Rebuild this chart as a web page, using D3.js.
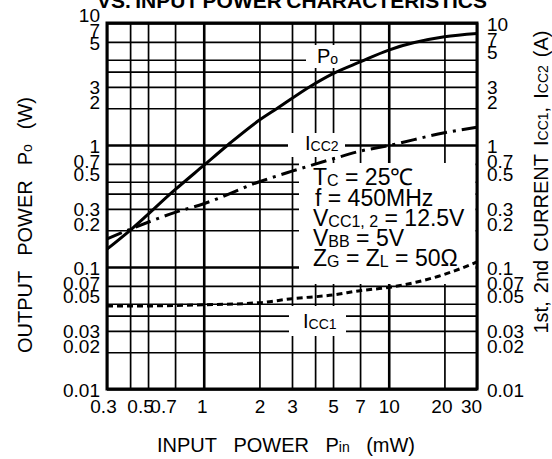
<!DOCTYPE html>
<html>
<head>
<meta charset="utf-8">
<script src="https://cdn.jsdelivr.net/npm/d3@7/dist/d3.min.js"></script>
<style>
  html, body { margin: 0; padding: 0; background: #fff; }
  svg { display: block; }
  text { font-family: "Liberation Sans", Arial, Helvetica, sans-serif; fill: #000; }
</style>
</head>
<body>
<svg id="chart" width="552" height="459"></svg>
<script>
// ---------------- data ----------------
const xGridValues = [0.3, 0.4, 0.5, 0.7, 1, 2, 3, 4, 5, 7, 10, 20, 30];
const yGridValues = [0.01, 0.02, 0.03, 0.04, 0.05, 0.07, 0.1, 0.2, 0.3, 0.4, 0.5, 0.7,
                     1, 2, 3, 4, 5, 7, 10];
const xTickValues = [0.3, 0.5, 0.7, 1, 2, 3, 5, 7, 10, 20, 30];
const xTickLabels = ["0.3", "0.5", "0.7", "1", "2", "3", "5", "7", "10", "20", "30"];
const yTickValues = [10, 7, 5, 3, 2, 1, 0.7, 0.5, 0.3, 0.2, 0.1, 0.07, 0.05, 0.03, 0.02, 0.01];
const yTickLabels = ["10", "7", "5", "3", "2", "1", "0.7", "0.5", "0.3", "0.2", "0.1", "0.07", "0.05", "0.03", "0.02", "0.01"];

// Output power Po (W) vs input power Pin (mW)
const poPin = [0.3, 0.4, 0.7, 1, 1.35, 2, 2.5, 3.8, 5, 7, 10, 20, 30];
const poOut = [0.14, 0.2, 0.43, 0.68, 1.0, 1.6, 2.0, 3.05, 3.85, 4.8, 6.0, 7.7, 8.2];
// 2nd stage current Icc2 (A)
const icc2Pin = [0.3, 0.42, 0.7, 1, 2, 3, 5, 7, 10, 20, 30];
const icc2 = [0.17, 0.21, 0.28, 0.33, 0.5, 0.61, 0.77, 0.89, 0.99, 1.26, 1.4];
// 1st stage current Icc1 (A)
const icc1Pin = [0.3, 0.5, 1, 2, 3, 5, 7, 10, 14, 20, 30];
const icc1 = [0.048, 0.048, 0.049, 0.051, 0.055, 0.059, 0.064, 0.068, 0.075, 0.087, 0.11];

// ---------------- layout ----------------
const svg = d3.select("#chart");
const x = d3.scaleLog().domain([0.3, 30]).range([107, 477]);
const y = d3.scaleLog().domain([0.01, 10]).range([389, 23]);
const pLeft = x(0.3), pRight = x(30), pTop = y(10), pBottom = y(0.01);

svg.append("rect").attr("width", 552).attr("height", 459).attr("fill", "#fff");

// A text made of words (each a list of [string, isSmall]) spread evenly over `target` px,
// centred on the origin of `transform`.
function spacedText(transform, size, words, target, weight) {
  const subSize = Math.round(size * 0.7);
  const widths = words.map(parts => {
    const t = svg.append("text").style("font-size", size + "px").style("font-weight", weight || "normal");
    parts.forEach(p => t.append("tspan").style("font-size", (p[1] ? subSize : size) + "px").text(p[0]));
    const w = t.node().getComputedTextLength();
    t.remove();
    return w;
  });
  const gap = words.length > 1 ? (target - d3.sum(widths)) / (words.length - 1) : 0;
  const t = svg.append("text").attr("transform", transform)
    .style("font-size", size + "px").style("font-weight", weight || "normal");
  let pos = -target / 2;
  words.forEach((parts, i) => {
    parts.forEach((p, j) => {
      const s = t.append("tspan").text(p[0]);
      if (j === 0) s.attr("x", pos);
      if (p[1]) s.style("font-size", subSize + "px");
    });
    pos += widths[i] + gap;
  });
  return t;
}

// Title (clipped at top edge, as in the scan)
spacedText("translate(292,8)", 21,
  [[["VS."]], [["INPUT"]], [["POWER"]], [["CHARACTERISTICS"]]], 390, "bold");

// ---------------- grid ----------------
const isDecade = v => Math.abs(Math.log10(v) - Math.round(Math.log10(v))) < 1e-9;

const gx = svg.append("g").attr("transform", `translate(0,${pBottom})`)
  .call(d3.axisBottom(x).tickValues(xGridValues).tickSize(-(pBottom - pTop)).tickFormat(""));
gx.select(".domain").remove();
gx.selectAll(".tick line").attr("stroke", "#000")
  .attr("stroke-width", d => isDecade(d) ? 2.6 : 1.7);

const gy = svg.append("g").attr("transform", `translate(${pLeft},0)`)
  .call(d3.axisLeft(y).tickValues(yGridValues).tickSize(-(pRight - pLeft)).tickFormat(""));
gy.select(".domain").remove();
gy.selectAll(".tick line").attr("stroke", "#000")
  .attr("stroke-width", d => isDecade(d) ? 2.6 : 1.7);

// white backgrounds behind the in-plot annotations
const masks = [
  [299, 163, pRight - 299 - 1.5, 121],  // conditions block
  [306, 45, 44, 23],                    // Po label
  [288, 133, 57, 24],                   // Icc2 label
  [289, 306, 57, 30]                    // Icc1 label
];
svg.append("g").selectAll("rect").data(masks).join("rect")
  .attr("x", d => d[0]).attr("y", d => d[1]).attr("width", d => d[2]).attr("height", d => d[3])
  .attr("fill", "#fff");

// frame
svg.append("rect").attr("x", pLeft).attr("y", pTop)
  .attr("width", pRight - pLeft).attr("height", pBottom - pTop)
  .attr("fill", "none").attr("stroke", "#000").attr("stroke-width", 3);

// ---------------- curves ----------------
const line = d3.line().x(d => x(d[0])).y(d => y(d[1])).curve(d3.curveMonotoneX);
svg.append("path").datum(d3.zip(poPin, poOut)).attr("d", line)
  .attr("fill", "none").attr("stroke", "#000").attr("stroke-width", 3);
svg.append("path").datum(d3.zip(icc2Pin, icc2)).attr("d", line)
  .attr("fill", "none").attr("stroke", "#000").attr("stroke-width", 3)
  .attr("stroke-dasharray", "16,6,3,6");
svg.append("path").datum(d3.zip(icc1Pin, icc1)).attr("d", line)
  .attr("fill", "none").attr("stroke", "#000").attr("stroke-width", 3)
  .attr("stroke-dasharray", "6,4");

// ---------------- axes labels ----------------
const mant = v => Math.round(v / Math.pow(10, Math.floor(Math.log10(v) + 1e-9)));
const nudgeRight = v => (mant(v) === 5 ? -8 : mant(v) === 2 ? -7 : mant(v) === 7 ? -3 : 0);
const nudgeLeft = v => nudgeRight(v) + (v >= 5 ? -9 : 0);
const tickFont = "19px";

const ax = svg.append("g").attr("transform", `translate(0,${pBottom})`)
  .call(d3.axisBottom(x).tickValues(xTickValues).tickSize(0)
    .tickFormat((d, i) => xTickLabels[i]));
ax.select(".domain").remove();
const xNudge = {0.3: -4, 0.5: -8, 0.7: -12, 1: -2, 20: -3, 30: -6};
ax.selectAll(".tick text").attr("y", 24).attr("dy", 0)
  .attr("dx", d => xNudge[d] || 0)
  .style("font-size", tickFont).style("font-family", "Liberation Sans, Arial, sans-serif");

const ayL = svg.append("g").attr("transform", `translate(${pLeft},0)`)
  .call(d3.axisLeft(y).tickValues(yTickValues).tickSize(0).tickPadding(7)
    .tickFormat((d, i) => yTickLabels[i]));
ayL.select(".domain").remove();
ayL.selectAll(".tick text").attr("dy", d => (nudgeLeft(d) + 7) + "px")
  .style("font-size", tickFont).style("font-family", "Liberation Sans, Arial, sans-serif");

const ayR = svg.append("g").attr("transform", `translate(${pRight},0)`)
  .call(d3.axisRight(y).tickValues(yTickValues).tickSize(0).tickPadding(10)
    .tickFormat((d, i) => yTickLabels[i]));
ayR.select(".domain").remove();
ayR.selectAll(".tick text").attr("dy", d => (nudgeRight(d) + 7) + "px")
  .style("font-size", tickFont).style("font-family", "Liberation Sans, Arial, sans-serif");

// axis titles
spacedText("translate(286,452)", 20,
  [[["INPUT"]], [["POWER"]], [["P"], ["in", true]], [["(mW)"]]], 258);
spacedText("translate(32,225) rotate(-90)", 20,
  [[["OUTPUT"]], [["POWER"]], [["P"], ["o", true]], [["(W)"]]], 256);
spacedText("translate(548,182) rotate(-90)", 20,
  [[["1st,"]], [["2nd"]], [["CURRENT"]], [["I"], ["CC1", true], [","]], [["I"], ["CC2", true]], [["(A)"]]], 303);

// ---------------- in-plot annotations ----------------
function labelWithSub(xp, yp, parts, size) {
  const t = svg.append("text").attr("x", xp).attr("y", yp).style("font-size", size + "px");
  parts.forEach(p => {
    const s = t.append("tspan").text(p[0]);
    if (p[1]) s.style("font-size", Math.round(size * 0.7) + "px").attr("dy", 1);
    else s.attr("dy", p[2] || 0);
  });
  return t;
}
labelWithSub(317, 63, [["P"], ["o", true]], 20);
labelWithSub(305, 150, [["I"], ["CC2", true]], 20);
labelWithSub(303, 328, [["I"], ["CC1", true]], 20);

const condSize = 23;
labelWithSub(313, 185, [["T"], ["C", true], [" = 25℃", false, -1]], condSize);
labelWithSub(315, 206, [["f = 450MHz"]], condSize);
labelWithSub(313, 226, [["V"], ["CC1, 2", true], [" = 12.5V", false, -1]], condSize);
labelWithSub(313, 246, [["V"], ["BB", true], [" = 5V", false, -1]], condSize);
labelWithSub(313, 266, [["Z"], ["G", true], [" = Z", false, -1], ["L", true], [" = 50Ω", false, -1]], condSize);
</script>
</body>
</html>
